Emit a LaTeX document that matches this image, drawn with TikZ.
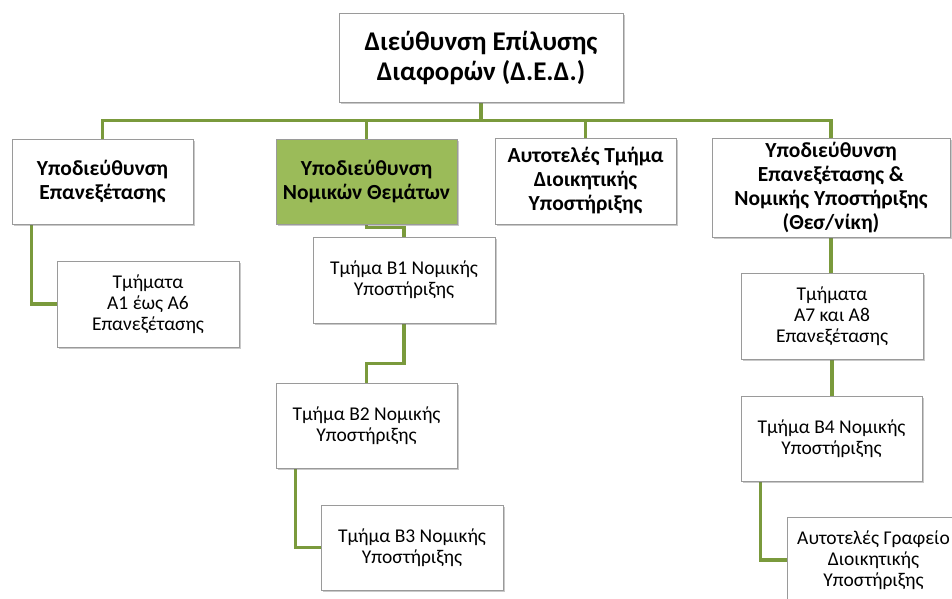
\documentclass[tikz,border=0pt]{standalone}
\usepackage{fontspec}
\setmainfont{Carlito}
\usetikzlibrary{shadows,backgrounds,calc}
\definecolor{linegreen}{HTML}{7A9A3C}
\definecolor{boxgreen}{HTML}{9BBB59}
\definecolor{boxborder}{HTML}{9A9A9A}
\tikzset{
  orgbox/.style={draw=boxborder, line width=0.8pt, fill=white, align=center, inner sep=2pt,
    drop shadow={shadow xshift=1.5pt, shadow yshift=-2pt, opacity=0.35, fill=black!60}},
  topfont/.style={font=\fontsize{27}{30}\selectfont\bfseries},
  midfont/.style={font=\fontsize{21.5}{24}\selectfont\bfseries},
  subfont/.style={font=\fontsize{19.5}{21}\selectfont},
  conn/.style={draw=linegreen, line width=3.6pt}
}
\begin{document}
\begin{tikzpicture}[x=1pt,y=-1pt]
\useasboundingbox (0,0) rectangle (952,599);
\clip (0,0) rectangle (952,599);
\node[orgbox, topfont, minimum width=284pt, minimum height=89pt] (top) at (481,57.5) {Διεύθυνση Επίλυσης\\Διαφορών (Δ.Ε.Δ.)};
\node[orgbox, midfont, minimum width=181pt, minimum height=85pt] (s1) at (102.5,181.5) {Υποδιεύθυνση\\Επανεξέτασης};
\node[orgbox, midfont, fill=boxgreen, minimum width=181pt, minimum height=85pt] (s2) at (366.5,181.5) {Υποδιεύθυνση\\Νομικών Θεμάτων};
\node[orgbox, midfont, minimum width=181pt, minimum height=86pt] (s3) at (585.5,181) {Αυτοτελές Τμήμα\\Διοικητικής\\Υποστήριξης};
\node[orgbox, midfont, minimum width=238pt, minimum height=99pt] (s4) at (831,187.5) {Υποδιεύθυνση\\Επανεξέτασης \&\\Νομικής Υποστήριξης\\(Θεσ/νίκη)};
\node[orgbox, subfont, minimum width=182pt, minimum height=86pt] (a16) at (148,304) {Τμήματα\\Α1 έως Α6\\Επανεξέτασης};
\node[orgbox, subfont, minimum width=182pt, minimum height=86pt] (b1) at (404,280) {Τμήμα Β1 Νομικής\\Υποστήριξης};
\node[orgbox, subfont, minimum width=181pt, minimum height=85pt] (b2) at (366.5,425.5) {Τμήμα Β2 Νομικής\\Υποστήριξης};
\node[orgbox, subfont, minimum width=182pt, minimum height=85pt] (b3) at (412,547.5) {Τμήμα Β3 Νομικής\\Υποστήριξης};
\node[orgbox, subfont, minimum width=182pt, minimum height=86pt] (a78) at (832,316) {Τμήματα\\Α7 και Α8\\Επανεξέτασης};
\node[orgbox, subfont, minimum width=181pt, minimum height=85pt] (b4) at (831.5,438.5) {Τμήμα Β4 Νομικής\\Υποστήριξης};
\node[orgbox, subfont, minimum width=173pt, minimum height=86pt] (gr) at (873.5,560) {Αυτοτελές Γραφείο\\Διοικητικής\\Υποστήριξης};
\begin{scope}[on background layer]
\fill[white] (0,0) rectangle (952,599);
\coordinate (bus) at ($(top.south)+(0,18)$);
\draw[conn] (top.south) -- (bus);
\draw[conn] (bus) -| (s1.north);
\draw[conn] (bus) -| (s2.north);
\draw[conn] (bus) -| (s3.north);
\draw[conn] (bus) -| (s4.north);
\draw[conn] ([xshift=20pt]s1.south west) |- (a16.west);
\draw[conn] (s2.south) -- ++(0,3) -| (b1.north);
\draw[conn] (b1.south) -- ++(0,40) -| (b2.north);
\draw[conn] ([xshift=20pt]b2.south west) |- (b3.west);
\draw[conn] (s4.south) -- (s4.south |- a78.north);
\draw[conn] (a78.south) -- (a78.south |- b4.north);
\draw[conn] ([xshift=20pt]b4.south west) |- (gr.west);
\end{scope}
\end{tikzpicture}
\end{document}
